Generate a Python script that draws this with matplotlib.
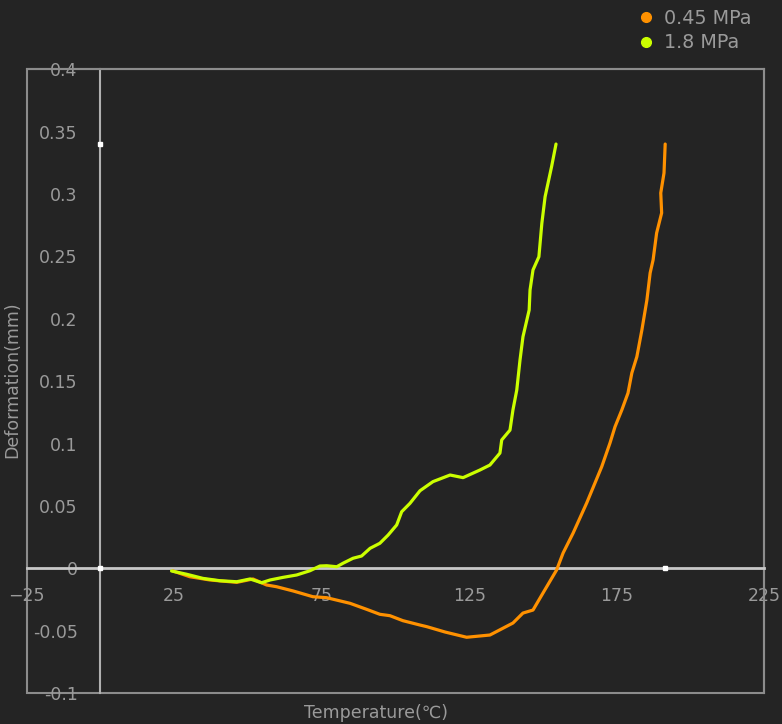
import matplotlib
matplotlib.use("Agg")
import matplotlib.pyplot as plt
from matplotlib.lines import Line2D
from matplotlib.patches import Rectangle

# data
t_045 = [24.6, 30.3, 37.1, 46.2, 51.7, 56.3, 59.7, 65.3, 72.0, 76.7, 84.6, 90.2,
         94.7, 98.1, 102.5, 108.3, 110.6, 116.8, 124.1, 132.0, 139.8, 143.2,
         146.6, 150.0, 154.6, 156.8, 160.2, 164.8, 169.9, 172.7, 174.4, 176.7,
         178.8, 180.1, 181.8, 183.5, 185.2, 186.3, 187.3, 188.5, 190.2, 189.9,
         191.0, 191.4]
d_045 = [-0.0020, -0.0066, -0.0092, -0.0111, -0.0084, -0.0132, -0.0146, -0.0180,
         -0.0226, -0.0234, -0.0279, -0.0327, -0.0367, -0.0378, -0.0418, -0.0453,
         -0.0466, -0.0509, -0.0551, -0.0533, -0.0437, -0.0357, -0.0333, -0.0196,
         -0.0012, 0.0124, 0.0284, 0.0525, 0.0816, 0.1006, 0.1136, 0.1270, 0.1406,
         0.1567, 0.1697, 0.1911, 0.2151, 0.2368, 0.2472, 0.2688, 0.2849, 0.3009,
         0.3169, 0.3401]

t_18 = [24.1, 29.2, 34.7, 40.5, 46.2, 50.7, 54.6, 57.5, 61.9, 66.5, 71.0, 74.4,
        76.7, 80.1, 82.2, 85.6, 88.5, 91.4, 94.7, 97.5, 100.4, 102.1, 104.9,
        108.3, 112.7, 118.5, 122.9, 128.6, 132.0, 135.4, 136.0, 138.8, 139.8,
        141.1, 142.2, 143.2, 145.3, 145.6, 146.6, 148.6, 149.6, 150.7, 152.9, 154.4]
d_18 = [-0.0020, -0.0046, -0.0079, -0.0098, -0.0106, -0.0084, -0.0114, -0.0092,
        -0.0071, -0.0052, -0.0018, 0.0020, 0.0022, 0.0014, 0.0042, 0.0082, 0.0100,
        0.0162, 0.0202, 0.0268, 0.0349, 0.0455, 0.0522, 0.0623, 0.0696, 0.0749,
        0.0728, 0.0789, 0.0829, 0.0925, 0.1030, 0.1109, 0.1270, 0.1430, 0.1671,
        0.1857, 0.2071, 0.2232, 0.2392, 0.2498, 0.2766, 0.2979, 0.3220, 0.3401]

mark_x = [0, 0, 191.3]
mark_y = [0.34, 0, 0]

x_ticks = [-25, 25, 75, 125, 175, 225]
y_ticks = [-0.1, -0.05, 0, 0.05, 0.1, 0.15, 0.2, 0.25, 0.3, 0.35, 0.4]
y_labels = ['-0.1', '-0.05', '0', '0.05', '0.1', '0.15', '0.2', '0.25', '0.3', '0.35', '0.4']

bg = '#242424'
txt = '#9a9a9a'
orange = '#ff9100'
green = '#ccff00'

fig = plt.figure(figsize=(7.82, 7.24), dpi=100, facecolor=bg)
ax = fig.add_axes([0.0341, 0.0424, 0.9433, 0.8619])
ax.set_facecolor(bg)

ax.plot(t_045, d_045, color=orange, lw=2.3, solid_joinstyle='round', solid_capstyle='round', zorder=3)
ax.plot(t_18, d_18, color=green, lw=2.3, solid_joinstyle='round', solid_capstyle='round', zorder=4)
ax.plot(mark_x, mark_y, 's', color='white', ms=2.5, ls='none', zorder=5)

ax.set_xlim(-25, 225)
ax.set_ylim(-0.1, 0.4)
ax.set_xticks(x_ticks)
ax.set_yticks(y_ticks)
ax.set_yticklabels(y_labels)

# zero lines via moved spines, outer frame as a patch
ax.spines['left'].set_position(('data', 0))
ax.spines['bottom'].set_position(('data', 0))
ax.spines['left'].set_color('#b0b0b0')
ax.spines['left'].set_linewidth(1.5)
ax.spines['bottom'].set_color('#c8c8c8')
ax.spines['bottom'].set_linewidth(2)
for s in ['top', 'right']:
    ax.spines[s].set_color('#8c8c8c')
    ax.spines[s].set_linewidth(1.5)
ax.add_patch(Rectangle((0, 0), 1, 1, transform=ax.transAxes, fill=False,
                       ec='#8c8c8c', lw=1.5, clip_on=False, zorder=1))

ax.tick_params(axis='x', length=0, pad=13, labelsize=12.5, colors=txt)
ax.tick_params(axis='y', length=0, pad=16.5, labelsize=12.5, colors=txt)

fig.text(12 / 782, 1 - 380 / 724, 'Deformation(mm)', rotation=90, color=txt,
         fontsize=12.5, ha='center', va='center')
fig.text(376 / 782, 1 - 713 / 724, 'Temperature(℃)', color=txt,
         fontsize=12.5, ha='center', va='center')

handles = [Line2D([], [], marker='o', ls='none', color=orange, ms=7),
           Line2D([], [], marker='o', ls='none', color=green, ms=7)]
fig.legend(handles, ['0.45 MPa', '1.8 MPa'], loc='upper left',
           bbox_to_anchor=(629 / 782, 1 - 1 / 724), frameon=False,
           fontsize=13.8, labelcolor=txt, handlelength=1.0, handletextpad=0.45,
           labelspacing=0.3, borderaxespad=0)

fig.savefig('out.png', dpi=100, facecolor=bg)
